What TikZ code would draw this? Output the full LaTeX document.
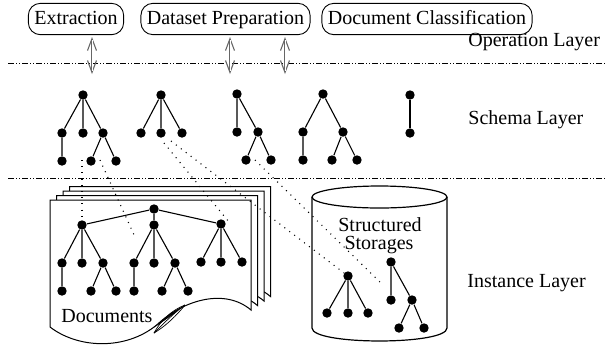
\documentclass[tikz,border=0pt]{standalone}
\usepackage{fontspec}
\setmainfont{Liberation Serif}
\usetikzlibrary{arrows.meta}
\begin{document}
\begin{tikzpicture}[x=0.5pt,y=-0.5pt,
  dot/.style={circle,fill=black,inner sep=0pt,minimum size=4.7pt},
  tedge/.style={line width=0.55pt},
  opbox/.style={draw,rounded corners=6pt,inner xsep=3pt,minimum height=14pt,text height=7pt,text depth=2pt,line width=0.45pt},
  layer/.style={anchor=base west,inner sep=0pt},
  sepline/.style={line width=0.4pt,dash pattern=on 3pt off 1pt on 0.5pt off 1pt on 0.5pt off 1pt},
  link/.style={line width=0.55pt,dash pattern=on 0.5pt off 2.6pt},
  arrowout/.style={draw=black!60,line width=1.1pt,{Straight Barb[length=6pt,width=4.5pt,line width=0.55pt]}-{Straight Barb[length=6pt,width=4.5pt,line width=0.55pt]}},
  arrowin/.style={draw=white,line width=0.3pt,shorten <=1.5pt,shorten >=1.5pt},
  page/.style={draw,fill=white,line width=0.5pt},
  cyl/.style={draw,line width=0.6pt},
  lbl/.style={anchor=base,inner sep=0pt}
]
\useasboundingbox (0,0) rectangle (606,350);

% separators
\draw[sepline] (8,63) -- (606,63);
\draw[sepline] (8,178) -- (606,178);

% operation boxes
\node[opbox] (ext) at (76,19) {Extraction};
\node[opbox] (dsp) at (225.5,19) {Dataset Preparation\hspace{4pt}};
\node[opbox] (dcl) at (427,19) {Document Classification};

% arrows
\coordinate (a1t) at (92,37);  \coordinate (a1b) at (92,74);
\coordinate (a2t) at (230,37); \coordinate (a2b) at (230,74);
\coordinate (a3t) at (285,37); \coordinate (a3b) at (285,74);
\foreach \t/\b in {a1t/a1b, a2t/a2b, a3t/a3b} {
  \draw[arrowout] (\t) -- (\b);
  \draw[arrowin] (\t) -- (\b);
}

% layer labels
\node[layer] (opl) at (468,46) {Operation Layer};
\node[layer] (scl) at (468,124) {Schema Layer};
\node[layer] (inl) at (467,287) {Instance Layer};

% schema trees
\node[dot] (s1r) at (83,95) {};
\node[dot] (s1a) at (62,133) {};
\node[dot] (s1b) at (83,133) {};
\node[dot] (s1c) at (103,133) {};
\node[dot] (s1d) at (62,161) {};
\node[dot] (s1e) at (91,161) {};
\node[dot] (s1f) at (116,161) {};
\draw[tedge] (s1r) -- (s1a) (s1r) -- (s1b) (s1r) -- (s1c) (s1a) -- (s1d) (s1c) -- (s1e) (s1c) -- (s1f);

\node[dot] (s2r) at (161,95) {};
\node[dot] (s2a) at (141,133) {};
\node[dot] (s2b) at (161,133) {};
\node[dot] (s2c) at (182,133) {};
\draw[tedge] (s2r) -- (s2a) (s2r) -- (s2b) (s2r) -- (s2c);

\node[dot] (s3r) at (237,94) {};
\node[dot] (s3a) at (237,132) {};
\node[dot] (s3b) at (258,132) {};
\node[dot] (s3c) at (246,160) {};
\node[dot] (s3d) at (271,160) {};
\draw[tedge] (s3r) -- (s3a) (s3r) -- (s3b) (s3b) -- (s3c) (s3b) -- (s3d);

\node[dot] (s4r) at (323,94) {};
\node[dot] (s4a) at (303,132) {};
\node[dot] (s4b) at (343,132) {};
\node[dot] (s4c) at (303,160) {};
\node[dot] (s4d) at (332,160) {};
\node[dot] (s4e) at (357,160) {};
\draw[tedge] (s4r) -- (s4a) (s4r) -- (s4b) (s4a) -- (s4c) (s4b) -- (s4d) (s4b) -- (s4e);

\node[dot] (s5r) at (410,95) {};
\node[dot] (s5a) at (410,133) {};
\draw[tedge] (s5r) -- (s5a);

% document pages
\foreach \dx/\dy in {19.5/-13.5, 13/-9, 6.5/-4.5, 0/0} {
  \draw[page,shift={(\dx,\dy)}] (50,200) -- (251,200) -- (251,310)
    .. controls (225,288) and (185,300) .. (160,322)
    .. controls (130,350) and (80,350) .. (50,327) -- cycle;
}
% page curl
\draw[line width=0.35pt] (154,333) .. controls (161,320) and (172,310) .. (185,305);
\draw[line width=0.35pt] (154,333) .. controls (166,326) and (177,315) .. (185,305);
\draw[line width=0.35pt] (154,333) .. controls (164,323) and (175,312) .. (185,305);

\node[layer] (docs) at (61,322) {Documents};

% document tree
\node[dot] (dr) at (154,209) {};
\node[dot] (dA) at (82,225) {};
\node[dot] (dB) at (154,225) {};
\node[dot] (dC) at (221,224) {};
\draw[tedge] (dr) -- (dA) (dr) -- (dB) (dr) -- (dC);
\node[dot] (dA1) at (62,263) {};
\node[dot] (dA2) at (82,263) {};
\node[dot] (dA3) at (103,263) {};
\node[dot] (dA4) at (62,291) {};
\node[dot] (dA5) at (91,291) {};
\node[dot] (dA6) at (116,291) {};
\draw[tedge] (dA) -- (dA1) (dA) -- (dA2) (dA) -- (dA3) (dA1) -- (dA4) (dA3) -- (dA5) (dA3) -- (dA6);
\node[dot] (dB1) at (134,263) {};
\node[dot] (dB2) at (154,263) {};
\node[dot] (dB3) at (175,263) {};
\node[dot] (dB4) at (134,291) {};
\node[dot] (dB5) at (162,291) {};
\node[dot] (dB6) at (188,291) {};
\draw[tedge] (dB) -- (dB1) (dB) -- (dB2) (dB) -- (dB3) (dB1) -- (dB4) (dB3) -- (dB5) (dB3) -- (dB6);
\node[dot] (dC1) at (201,262) {};
\node[dot] (dC2) at (221,262) {};
\node[dot] (dC3) at (242,262) {};
\draw[tedge] (dC) -- (dC1) (dC) -- (dC2) (dC) -- (dC3);

% storage cylinder
\draw[cyl] (312,197) -- (312,328) .. controls (312,345.3) and (447,345.3) .. (447,328) -- (447,197);
\draw[cyl] (379.5,197) ellipse [x radius=67.5, y radius=11];
\node[lbl] (st1) at (380,231) {Structured};
\node[lbl] (st2) at (379,249) {Storages};

\node[dot] (cA) at (348,276) {};
\node[dot] (cA1) at (327,313) {};
\node[dot] (cA2) at (348,313) {};
\node[dot] (cA3) at (368,313) {};
\draw[tedge] (cA) -- (cA1) (cA) -- (cA2) (cA) -- (cA3);
\node[dot] (cB) at (391,262) {};
\node[dot] (cB1) at (391,300) {};
\node[dot] (cB2) at (412,300) {};
\node[dot] (cB3) at (399,328) {};
\node[dot] (cB4) at (424,328) {};
\draw[tedge] (cB) -- (cB1) (cB) -- (cB2) (cB2) -- (cB3) (cB2) -- (cB4);

% dotted mapping lines
\coordinate (l1s) at (82,160);
\coordinate (l2s) at (100,160); \coordinate (l2e) at (135,237);
\coordinate (l3s) at (164,143); \coordinate (l3e) at (229,222);
\coordinate (l4s) at (171,141);
\coordinate (l5s) at (255,160); \coordinate (l5e) at (383,285);
\draw[link] (l1s) -- (dA);
\draw[link] (l2s) -- (l2e);
\draw[link] (l3s) -- (l3e);
\draw[link] (l4s) -- (cA);
\draw[link] (l5s) -- (l5e);
\end{tikzpicture}
\end{document}
